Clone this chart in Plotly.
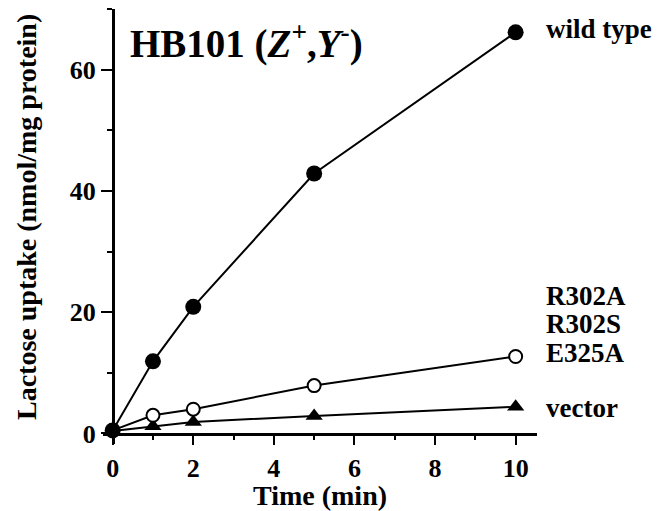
import plotly.graph_objects as go

time_min = [0, 1, 2, 5, 10]
wild_type = [0.5, 11.9, 20.9, 42.9, 66.2]
mutants = [0.5, 3.0, 4.0, 7.9, 12.7]
vector = [0.4, 1.2, 1.9, 2.9, 4.4]

x_ticks = [0, 2, 4, 6, 8, 10]
y_ticks = [0, 20, 40, 60]

FONT = "Liberation Serif"

fig = go.Figure()
fig.add_trace(go.Scatter(x=time_min, y=vector, mode="lines+markers",
                         line=dict(color="black", width=2),
                         marker=dict(symbol="triangle-up", size=15, color="black")))
fig.add_trace(go.Scatter(x=time_min, y=mutants, mode="lines+markers",
                         line=dict(color="black", width=2),
                         marker=dict(symbol="circle", size=13, color="white",
                                     line=dict(color="black", width=2))))
fig.add_trace(go.Scatter(x=time_min, y=wild_type, mode="lines+markers",
                         line=dict(color="black", width=2),
                         marker=dict(symbol="circle", size=16, color="black")))

tickfont = dict(family=FONT, size=26, color="black", weight="bold")

# page has an 8px body margin, so the figure is offset by 8px right/down
fig.update_layout(
    width=653, height=503,
    margin=dict(l=95, r=124, t=1, b=67, autoexpand=False),
    paper_bgcolor="white", plot_bgcolor="white",
    showlegend=False,
    xaxis=dict(range=[-0.24, 10.53], anchor="free", position=0.024, automargin=False,
               showgrid=False, zeroline=False, showline=True,
               linecolor="black", linewidth=2.5,
               tickmode="array", tickvals=x_ticks, ticks="outside",
               ticklen=10, tickwidth=2, tickcolor="black", tickfont=tickfont,
               minor=dict(tickmode="linear", tick0=1, dtick=2, ticks="outside",
                          ticklen=5, tickwidth=2, tickcolor="black")),
    yaxis=dict(range=[-1.74, 70.05], anchor="free", position=0.0224, automargin=False,
               showgrid=False, zeroline=False, showline=True,
               linecolor="black", linewidth=2.5,
               tickmode="array", tickvals=y_ticks, ticks="outside",
               ticklen=11, tickwidth=2, tickcolor="black", tickfont=tickfont,
               minor=dict(tickmode="linear", tick0=10, dtick=20, ticks="outside",
                          ticklen=5, tickwidth=2, tickcolor="black")),
)

bold = lambda s: dict(family=FONT, size=s, color="black", weight="bold")

annotations = [
    dict(text="HB101 (<i>Z</i><sup>+</sup>,<i>Y</i><sup>-</sup>)", x=(128 - 103) / 434,
         y=(443 - 40) / 435,
         xref="paper", yref="paper", xanchor="left", yanchor="middle",
         showarrow=False, font=bold(39)),
    dict(text="Lactose uptake (nmol/mg protein)", x=(26 - 103) / 434, y=(443 - 216) / 435,
         xref="paper", yref="paper", xanchor="center", yanchor="middle",
         textangle=-90, showarrow=False, font=bold(28)),
    dict(text="Time (min)", x=(320 - 103) / 434, y=(443 - 494) / 435, xref="paper", yref="paper",
         xanchor="center", yanchor="middle", showarrow=False, font=bold(28)),
]
labels = [("wild type", 28), ("R302A", 295), ("R302S", 323), ("E325A", 352), ("vector", 407)]
for txt, ypix in labels:
    annotations.append(dict(text=txt, x=(544 - 103) / 434, y=(443 - ypix) / 435,
                            xref="paper", yref="paper", xanchor="left", yanchor="middle",
                            showarrow=False, font=bold(27)))
fig.update_layout(annotations=annotations)

fig.write_html("out.html")
